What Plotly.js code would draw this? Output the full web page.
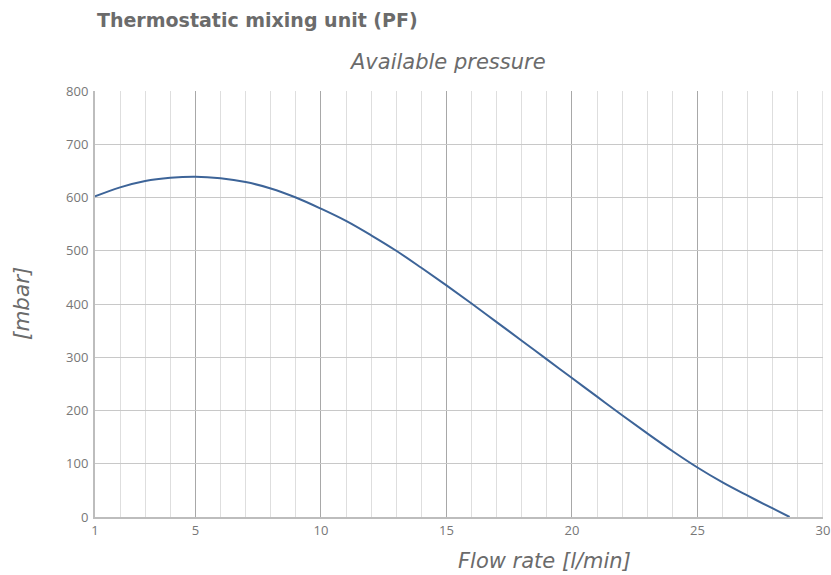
<!DOCTYPE html>
<html>
<head>
<meta charset="utf-8">
<script src="https://cdn.plot.ly/plotly-3.0.1.min.js"></script>
<style>html,body{margin:0;padding:0;background:#fff;}#chart{width:831px;height:575px;}</style>
</head>
<body>
<div id="chart"></div>
<script>
const flowRate = [1, 2, 3, 4, 5, 6, 7, 8, 9, 10, 11, 12, 13, 14, 15, 16, 17, 18, 19, 20, 21, 22, 23, 24, 25, 26, 27, 28, 28.67];
const pressure = [602, 619, 631, 637, 639, 636, 629, 617, 600, 579, 556, 529, 500, 468, 435, 401, 366, 331, 296, 261, 226, 191, 157, 124, 93, 65, 40, 16, 0];
const xTicks = [1, 5, 10, 15, 20, 25, 30];
const yTicks = [0, 100, 200, 300, 400, 500, 600, 700, 800];

const tickFam = "'Open Sans', sans-serif";
const titleFam = "'DejaVu Sans', sans-serif";
const trace = {
  x: flowRate, y: pressure, type: 'scatter', mode: 'lines',
  line: {color: '#3d6498', width: 2, shape: 'spline', smoothing: 1},
  hoverinfo: 'skip'
};
const layout = {
  width: 831, height: 575,
  margin: {l: 95, r: 8, t: 91, b: 58},
  paper_bgcolor: '#fff', plot_bgcolor: '#fff',
  showlegend: false,
  font: {family: tickFam, color: '#777', size: 13},
  xaxis: {
    range: [1, 30], tickvals: xTicks, ticktext: xTicks.map(String),
    showgrid: true, gridcolor: '#a8a8a8', gridwidth: 1,
    minor: {dtick: 1, tick0: 1, showgrid: true, gridcolor: '#dedede', gridwidth: 1},
    showline: true, linecolor: '#bdbdbd', linewidth: 2, mirror: false,
    zeroline: false, ticks: '', tickfont: {size: 13, color: '#777'},
    fixedrange: true
  },
  yaxis: {
    range: [0, 800], tickvals: yTicks, ticktext: yTicks.map(String),
    showgrid: true, gridcolor: '#c8c8c8', gridwidth: 1,
    showline: true, linecolor: '#bdbdbd', linewidth: 2,
    zeroline: false, ticks: '', ticklabelstandoff: 2, tickfont: {size: 13, color: '#777'},
    fixedrange: true
  },
  shapes: [
    {type: 'line', xref: 'x', yref: 'paper', x0: 30, x1: 30, y0: 0, y1: 1, line: {color: '#c8c8c8', width: 1}}
  ],
  annotations: [
    {text: '<b>Thermostatic mixing unit (PF)</b>', xref: 'paper', yref: 'paper', x: 0, y: 1, xshift: 0, yshift: 71, xanchor: 'left', yanchor: 'middle', showarrow: false, font: {size: 19, color: '#6b6b6b', family: titleFam}},
    {text: '<i>Available pressure</i>', xref: 'paper', yref: 'paper', x: 0.484, y: 1, yshift: 29, xanchor: 'center', yanchor: 'middle', showarrow: false, font: {size: 21, color: '#6b6b6b', family: titleFam}},
    {text: '<i>Flow rate [l/min]</i>', xref: 'paper', yref: 'paper', x: 0.617, y: 0, yshift: -44, xanchor: 'center', yanchor: 'middle', showarrow: false, font: {size: 21, color: '#6b6b6b', family: titleFam}},
    {text: '<i>[mbar]</i>', xref: 'paper', yref: 'paper', x: 0, y: 0.5, xshift: -74, textangle: -90, xanchor: 'center', yanchor: 'middle', showarrow: false, font: {size: 21.5, color: '#6b6b6b', family: titleFam}}
  ]
};
Plotly.newPlot('chart', [trace], layout, {displayModeBar: false, staticPlot: true});
</script>
</body>
</html>
